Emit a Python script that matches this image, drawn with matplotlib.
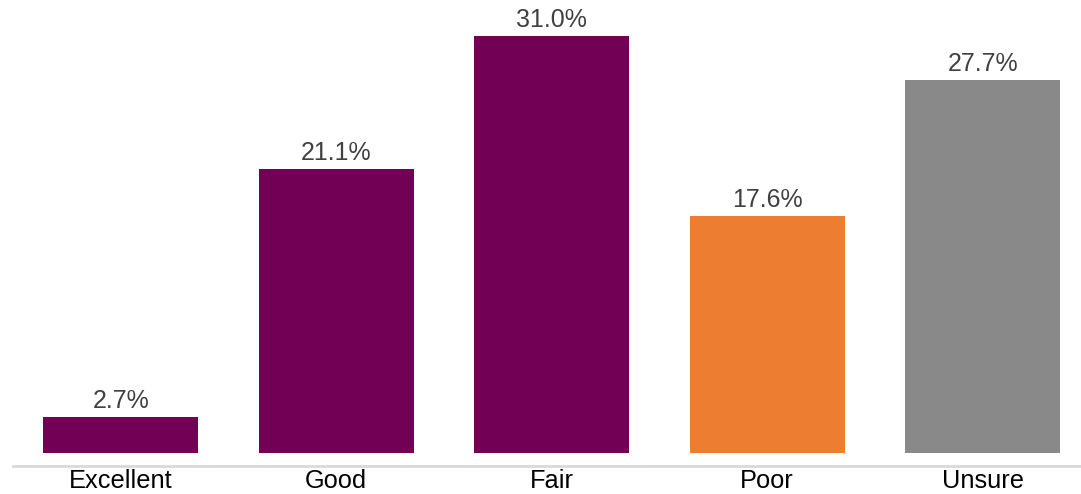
import matplotlib
matplotlib.use("Agg")
import matplotlib.pyplot as plt

categories = ["Excellent", "Good", "Fair", "Poor", "Unsure"]
values = [2.7, 21.1, 31.0, 17.6, 27.7]
colors = ["#720055", "#720055", "#720055", "#ED7D31", "#898989"]

plt.rcParams['font.family'] = ['Liberation Sans', 'DejaVu Sans']

fig = plt.figure(figsize=(10.81, 4.94), dpi=100)
ax = fig.add_axes([13/1081, 28/494, 1068/1081, 466/494])
x = range(len(categories))
bars = ax.bar(x, values, width=0.72, color=colors)
for xi, v in zip(x, values):
    ax.annotate(f"{v:.1f}%", (xi, v), xytext=(0, 3), textcoords="offset points",
                ha="center", va="bottom", fontsize=18, color="#404040")
ax.set_xlim(-0.5, 4.456)
ax.set_ylim(-0.967, 33.68)
ax.set_xticks(list(x))
ax.set_xticklabels(categories, fontsize=18.3, color="black")
ax.tick_params(axis='x', length=0, pad=2)
ax.set_yticks([])
for s in ["top", "right", "left"]:
    ax.spines[s].set_visible(False)
ax.spines["bottom"].set_color("#d9d9d9")
ax.spines["bottom"].set_linewidth(2)
fig.savefig("out.png", dpi=100)
